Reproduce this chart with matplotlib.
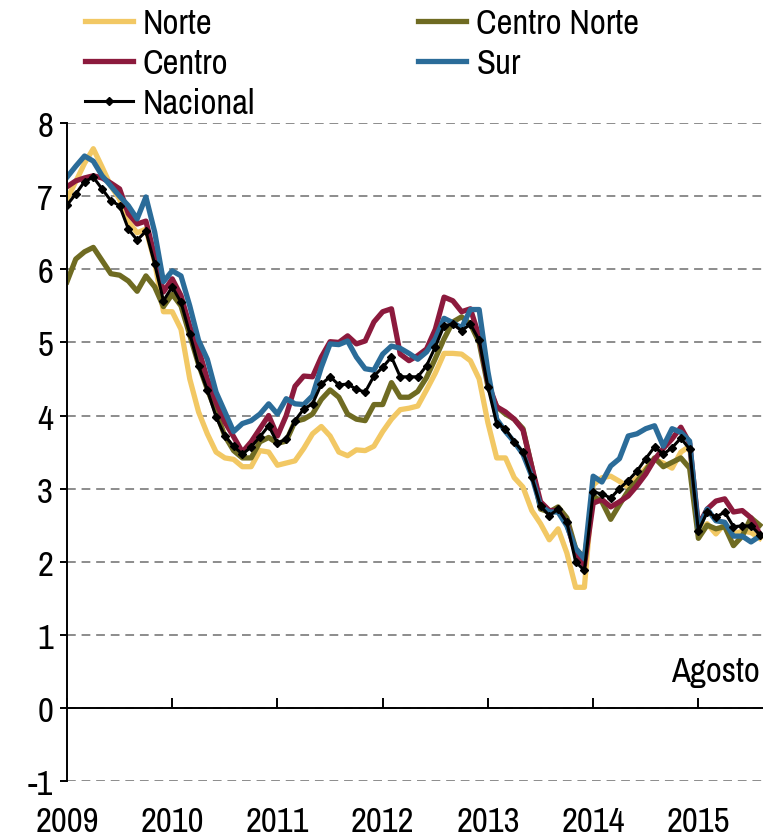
import numpy as np
import matplotlib
matplotlib.use('Agg')
import matplotlib.pyplot as plt
from matplotlib import font_manager

# the reference uses a narrow face; use one if the system has it
narrow = [f.name for f in font_manager.fontManager.ttflist
          if 'Narrow' in f.name or 'Condensed' in f.name]
if narrow:
    plt.rcParams['font.family'] = [narrow[0], 'DejaVu Sans']
    FS = 25
else:
    plt.rcParams['font.family'] = ['Liberation Sans', 'DejaVu Sans']
    FS = 22
plt.rcParams['axes.unicode_minus'] = False

# monthly series, enero 2009 - agosto 2015
years = ['2009', '2010', '2011', '2012', '2013', '2014', '2015']

norte = [6.96, 7.20, 7.45, 7.65, 7.40, 7.14, 6.96, 6.65, 6.50, 6.55, 6.10, 5.42,
         5.42, 5.18, 4.50, 4.05, 3.75, 3.50, 3.42, 3.40, 3.30, 3.30, 3.52, 3.50,
         3.32, 3.35, 3.38, 3.55, 3.75, 3.85, 3.72, 3.50, 3.45, 3.53, 3.52, 3.58,
         3.78, 3.95, 4.08, 4.10, 4.13, 4.35, 4.58, 4.85, 4.85, 4.84, 4.75, 4.50,
         3.90, 3.42, 3.42, 3.15, 3.02, 2.70, 2.52, 2.30, 2.45, 2.12, 1.65, 1.65,
         3.05, 3.15, 3.17, 3.10, 3.02, 3.15, 3.28, 3.40, 3.35, 3.28, 3.50, 3.58,
         2.42, 2.52, 2.38, 2.52, 2.38, 2.42, 2.40, 2.32]

centro_norte = [5.83, 6.14, 6.24, 6.30, 6.12, 5.94, 5.92, 5.84, 5.70, 5.91, 5.76, 5.49,
                5.66, 5.50, 5.10, 4.70, 4.36, 4.05, 3.72, 3.52, 3.42, 3.42, 3.64, 3.70,
                3.62, 3.65, 3.92, 3.95, 4.02, 4.22, 4.35, 4.25, 4.02, 3.95, 3.93, 4.15,
                4.15, 4.45, 4.25, 4.25, 4.33, 4.52, 4.78, 5.05, 5.28, 5.35, 5.25, 5.00,
                4.40, 4.12, 4.02, 3.95, 3.82, 3.30, 2.72, 2.68, 2.75, 2.60, 2.18, 2.05,
                2.90, 2.82, 2.58, 2.78, 2.97, 3.10, 3.25, 3.42, 3.30, 3.36, 3.42, 3.28,
                2.32, 2.50, 2.45, 2.48, 2.22, 2.35, 2.60, 2.50]

centro = [7.13, 7.21, 7.25, 7.28, 7.25, 7.18, 7.10, 6.76, 6.62, 6.66, 6.18, 5.69,
          5.87, 5.64, 5.22, 4.91, 4.50, 4.18, 3.91, 3.71, 3.50, 3.64, 3.82, 4.00,
          3.72, 4.00, 4.40, 4.54, 4.53, 4.80, 5.01, 5.00, 5.09, 4.98, 5.02, 5.28,
          5.42, 5.46, 4.84, 4.75, 4.82, 4.91, 5.18, 5.62, 5.57, 5.42, 5.46, 5.08,
          4.45, 4.12, 4.05, 3.95, 3.80, 3.30, 2.82, 2.70, 2.70, 2.52, 2.12, 1.95,
          2.80, 2.85, 2.75, 2.82, 2.90, 3.04, 3.20, 3.40, 3.55, 3.68, 3.84, 3.62,
          2.50, 2.72, 2.83, 2.86, 2.68, 2.70, 2.60, 2.38]

sur = [7.26, 7.41, 7.55, 7.48, 7.28, 7.14, 7.00, 6.87, 6.69, 6.99, 6.51, 5.83,
       5.98, 5.91, 5.50, 5.03, 4.77, 4.32, 4.05, 3.78, 3.89, 3.93, 4.02, 4.16,
       4.02, 4.23, 4.16, 4.15, 4.27, 4.66, 4.98, 4.97, 5.02, 4.80, 4.64, 4.62,
       4.84, 4.95, 4.92, 4.85, 4.77, 4.87, 5.05, 5.33, 5.27, 5.20, 5.45, 5.45,
       4.60, 3.95, 3.78, 3.64, 3.47, 3.17, 2.76, 2.68, 2.68, 2.49, 2.18, 2.04,
       3.17, 3.09, 3.31, 3.41, 3.72, 3.75, 3.82, 3.86, 3.58, 3.82, 3.77, 3.65,
       2.45, 2.72, 2.56, 2.54, 2.35, 2.35, 2.27, 2.35]

nacional = [6.88, 7.03, 7.20, 7.26, 7.10, 6.94, 6.87, 6.55, 6.40, 6.52, 6.07, 5.57,
            5.76, 5.55, 5.12, 4.68, 4.35, 3.98, 3.72, 3.58, 3.47, 3.57, 3.71, 3.86,
            3.62, 3.68, 3.93, 4.09, 4.16, 4.43, 4.53, 4.42, 4.43, 4.36, 4.32, 4.54,
            4.66, 4.80, 4.53, 4.53, 4.53, 4.68, 4.94, 5.23, 5.25, 5.16, 5.25, 5.03,
            4.39, 3.89, 3.82, 3.64, 3.50, 3.16, 2.76, 2.63, 2.72, 2.54, 2.00, 1.88,
            2.95, 2.93, 2.87, 3.00, 3.11, 3.24, 3.41, 3.57, 3.47, 3.56, 3.69, 3.54,
            2.42, 2.68, 2.61, 2.68, 2.48, 2.49, 2.49, 2.37]

series = [('Norte', norte, '#F2C864'),
          ('Centro Norte', centro_norte, '#6F6B22'),
          ('Centro', centro, '#8C1A3D'),
          ('Sur', sur, '#2B6C99')]

months = np.arange(len(nacional))
em = FS * 100 / 72.0  # font size in pixels

fig = plt.figure(figsize=(7.63, 8.37), dpi=100)
ax = fig.add_axes([0.0878, 0.0657, 0.912, 0.786])

handles = {}
for name, vals, col in series:
    ln, = ax.plot(months, vals, color=col, lw=3.8, label=name)
    handles[name] = ln
ln, = ax.plot(months, nacional, color='black', lw=2.2, marker='D', markersize=4,
              label='Nacional')
handles['Nacional'] = ln

ax.set_xlim(0, 79.35)
ax.set_ylim(-1, 8)
ax.set_yticks(range(-1, 9))
ax.grid(axis='y', color='#8c8c8c', lw=1.4, linestyle=(0, (4.5, 3)))
ax.set_axisbelow(True)

ax.spines['top'].set_visible(False)
ax.spines['right'].set_visible(False)
ax.spines['left'].set_linewidth(1.4)
ax.spines['bottom'].set_linewidth(1.4)
ax.spines['bottom'].set_position(('data', 0))

ax.set_xticks(np.arange(len(years)) * 12)
ax.set_xticklabels(years)
ax.tick_params(axis='x', direction='in', length=7, width=1.4, pad=70, labelsize=FS)
ax.tick_params(axis='y', direction='out', length=5, width=1.4, pad=5, labelsize=FS)

ax.text(79, 0.5, 'Agosto', ha='right', va='center', fontsize=FS)

order = ['Norte', 'Centro', 'Nacional', 'Centro Norte', 'Sur']
fig.legend([handles[k] for k in order], order, ncol=2, loc='upper left',
           bbox_to_anchor=(85 / 763, 1 - 8 / 837), frameon=False, fontsize=FS,
           handlelength=48 / em, handletextpad=10 / em, columnspacing=163 / em,
           labelspacing=8 / em, borderpad=0, borderaxespad=0, numpoints=1)

fig.savefig('out.png', dpi=100)
